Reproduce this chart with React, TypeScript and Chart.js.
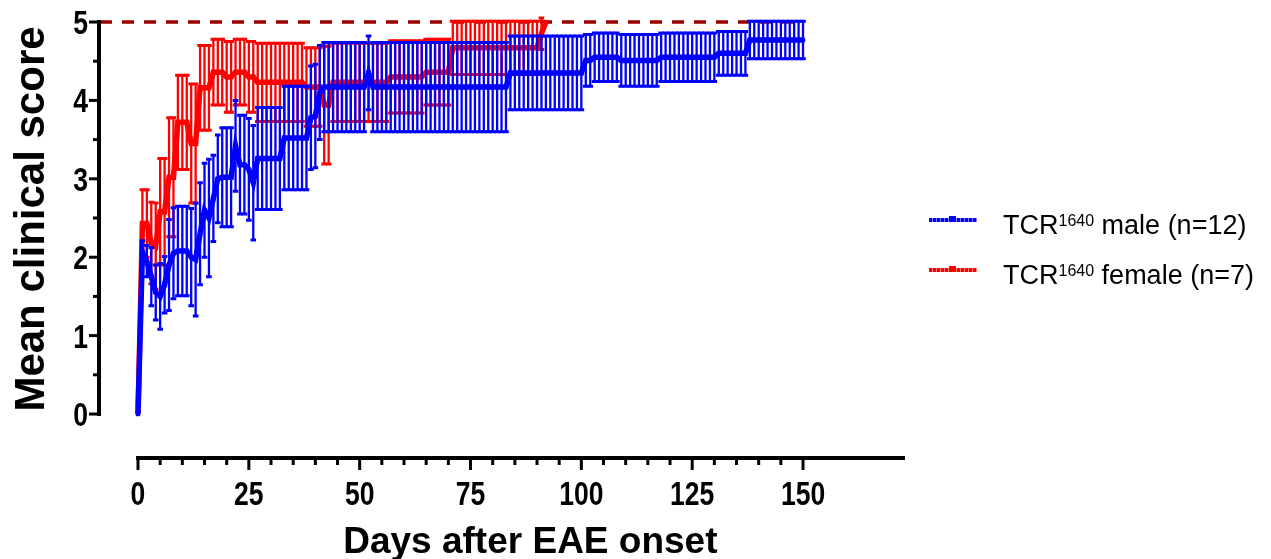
import { useEffect, useRef } from "react";
import { Chart, registerables } from "chart.js";

Chart.register(...registerables);

// ---------------- DATA ----------------
const maleMean = [
  0, 2.07, 1.95, 1.75, 1.55, 1.5, 1.65, 1.9, 2.05, 2.08,
  2.08, 2.08, 2.0, 1.97, 2.3, 2.6, 2.5, 2.75, 3.0, 3.02,
  3.02, 3.02, 3.42, 3.18, 3.18, 3.12, 2.95, 3.26, 3.26, 3.26,
  3.26, 3.26, 3.26, 3.52, 3.52, 3.52, 3.52, 3.52, 3.52, 3.78,
  3.8, 4.1, 4.17, 4.17, 4.17, 4.17, 4.17, 4.17, 4.17, 4.17,
  4.17, 4.17, 4.35, 4.17, 4.17, 4.17, 4.17, 4.17, 4.17, 4.17,
  4.17, 4.17, 4.17, 4.17, 4.17, 4.17, 4.17, 4.17, 4.17, 4.17,
  4.17, 4.17, 4.17, 4.17, 4.17, 4.17, 4.17, 4.17, 4.17, 4.17,
  4.17, 4.17, 4.17, 4.17, 4.35, 4.35, 4.35, 4.35, 4.35, 4.35,
  4.35, 4.35, 4.35, 4.35, 4.35, 4.35, 4.35, 4.35, 4.35, 4.35,
  4.35, 4.51, 4.51, 4.55, 4.55, 4.55, 4.55, 4.55, 4.55, 4.51,
  4.51, 4.51, 4.51, 4.51, 4.51, 4.51, 4.51, 4.51, 4.55, 4.55,
  4.55, 4.55, 4.55, 4.55, 4.55, 4.55, 4.55, 4.55, 4.55, 4.55,
  4.55, 4.6, 4.6, 4.6, 4.6, 4.6, 4.6, 4.6, 4.77, 4.77,
  4.77, 4.77, 4.77, 4.77, 4.77, 4.77, 4.77, 4.77, 4.77, 4.77,
  4.77,
];
const maleSem = [
  0, 0.14, 0.2, 0.37, 0.35, 0.42, 0.36, 0.58, 0.58, 0.57,
  0.57, 0.57, 0.62, 0.72, 0.65, 0.6, 0.75, 0.55, 0.56, 0.63,
  0.63, 0.63, 0.58, 0.63, 0.63, 0.65, 0.73, 0.65, 0.65, 0.65,
  0.65, 0.65, 0.65, 0.66, 0.66, 0.66, 0.66, 0.66, 0.66, 0.66,
  0.66, 0.6, 0.57, 0.57, 0.57, 0.57, 0.57, 0.57, 0.57, 0.57,
  0.57, 0.57, 0.47, 0.57, 0.57, 0.57, 0.57, 0.57, 0.57, 0.57,
  0.57, 0.57, 0.57, 0.57, 0.57, 0.57, 0.57, 0.57, 0.57, 0.57,
  0.57, 0.57, 0.57, 0.57, 0.57, 0.57, 0.57, 0.57, 0.57, 0.57,
  0.57, 0.57, 0.57, 0.57, 0.47, 0.47, 0.47, 0.47, 0.47, 0.47,
  0.47, 0.47, 0.47, 0.47, 0.47, 0.47, 0.47, 0.47, 0.47, 0.47,
  0.47, 0.33, 0.33, 0.31, 0.31, 0.31, 0.31, 0.31, 0.31, 0.33,
  0.33, 0.33, 0.33, 0.33, 0.33, 0.33, 0.33, 0.33, 0.31, 0.31,
  0.31, 0.31, 0.31, 0.31, 0.31, 0.31, 0.31, 0.31, 0.31, 0.31,
  0.31, 0.28, 0.28, 0.28, 0.28, 0.28, 0.28, 0.28, 0.24, 0.24,
  0.24, 0.24, 0.24, 0.24, 0.24, 0.24, 0.24, 0.24, 0.24, 0.24,
  0.24,
];
const femaleMean = [
  0, 2.43, 2.43, 2.18, 2.14, 2.58, 2.58, 3.02, 3.02, 3.72,
  3.72, 3.72, 3.45, 3.45, 4.16, 4.16, 4.16, 4.36, 4.36, 4.36,
  4.3, 4.3, 4.36, 4.36, 4.36, 4.3, 4.3, 4.23, 4.23, 4.23,
  4.23, 4.23, 4.23, 4.23, 4.23, 4.23, 4.23, 4.23, 4.17, 4.17,
  4.17, 4.17, 3.94, 3.94, 4.23, 4.23, 4.23, 4.23, 4.23, 4.23,
  4.23, 4.23, 4.23, 4.23, 4.23, 4.23, 4.23, 4.3, 4.3, 4.3,
  4.3, 4.3, 4.3, 4.3, 4.3, 4.36, 4.36, 4.36, 4.36, 4.36,
  4.36, 4.67, 4.67, 4.67, 4.67, 4.67, 4.67, 4.67, 4.67, 4.67,
  4.67, 4.67, 4.67, 4.67, 4.67, 4.67, 4.67, 4.67, 4.67, 4.67,
  4.67, 4.85, 5.0,
];
const femaleSem = [
  0, 0.43, 0.43, 0.52, 0.55, 0.68, 0.68, 0.76, 0.76, 0.6,
  0.6, 0.6, 0.76, 0.76, 0.54, 0.54, 0.54, 0.42, 0.42, 0.42,
  0.45, 0.45, 0.42, 0.42, 0.42, 0.45, 0.45, 0.5, 0.5, 0.5,
  0.5, 0.5, 0.5, 0.5, 0.5, 0.5, 0.5, 0.5, 0.5, 0.5,
  0.5, 0.5, 0.75, 0.75, 0.5, 0.5, 0.5, 0.5, 0.5, 0.5,
  0.5, 0.5, 0.5, 0.5, 0.5, 0.5, 0.5, 0.46, 0.46, 0.46,
  0.46, 0.46, 0.46, 0.46, 0.46, 0.42, 0.42, 0.42, 0.42, 0.42,
  0.42, 0.34, 0.34, 0.34, 0.34, 0.34, 0.34, 0.34, 0.34, 0.34,
  0.34, 0.34, 0.34, 0.34, 0.34, 0.34, 0.34, 0.34, 0.34, 0.34,
  0.34, 0.2, 0,
];
const xTickValues = [0, 25, 50, 75, 100, 125, 150];
const xMinorStep = 5;
const yTickValues = [0, 1, 2, 3, 4, 5];
const yMinorStep = 0.5;
const maxScore = 5;
const maxScoreLineEnd = 150;
const xRange = [-8.57, 173];
const yRange = [-0.561, 5];
const seriesLabels = ["male (n=12)", "female (n=7)"];
const xTitle = "Days after EAE onset";
const yTitle = "Mean clinical score";

const BLUE = "#0000FF";
const RED = "#FF0000";
const DARKRED = "#9A0000";

const toPoints = (arr: number[]) => arr.map((v, i) => ({ x: i, y: v }));

const errorBarPlugin = {
  id: "errorBars",
  beforeDatasetDraw(chart: any, args: any) {
    const ds = chart.data.datasets[args.index];
    if (!ds.sem) return;
    const xs = chart.scales.x;
    const ys = chart.scales.y;
    const ctx = chart.ctx;
    ctx.save();
    ctx.strokeStyle = ds.borderColor;
    ds.data.forEach((pt: any, i: number) => {
      const s = ds.sem[i];
      if (!s) return;
      const px = xs.getPixelForValue(pt.x);
      const top = ys.getPixelForValue(pt.y + s);
      const bot = ys.getPixelForValue(pt.y - s);
      ctx.lineWidth = 2.3;
      ctx.beginPath();
      ctx.moveTo(px, top);
      ctx.lineTo(px, bot);
      ctx.stroke();
      ctx.lineWidth = 3;
      ctx.beginPath();
      ctx.moveTo(px - 2.8, top);
      ctx.lineTo(px + 2.8, top);
      ctx.moveTo(px - 2.8, bot);
      ctx.lineTo(px + 2.8, bot);
      ctx.stroke();
    });
    ctx.restore();
  },
};

const TICK_FONT = "bold 34px 'Liberation Sans', Arial, sans-serif";
const NARROW = 0.78;

const axesPlugin = {
  id: "customAxes",
  afterDraw(chart: any) {
    const xs = chart.scales.x;
    const ys = chart.scales.y;
    const ctx = chart.ctx;
    const area = chart.chartArea;
    ctx.save();
    ctx.strokeStyle = "#000";
    ctx.fillStyle = "#000";
    // y axis
    const yAxisX = area.left - 1;
    const y0 = ys.getPixelForValue(yTickValues[0]);
    const y5 = ys.getPixelForValue(yTickValues[yTickValues.length - 1]);
    ctx.lineWidth = 4;
    ctx.beginPath();
    ctx.moveTo(yAxisX, y0 + 2);
    ctx.lineTo(yAxisX, y5 - 2);
    ctx.stroke();
    for (let v = yTickValues[0]; v <= yTickValues[yTickValues.length - 1] + 1e-9; v += yMinorStep) {
      const py = ys.getPixelForValue(v);
      const major = yTickValues.includes(Math.round(v * 100) / 100);
      ctx.lineWidth = 3;
      ctx.beginPath();
      ctx.moveTo(yAxisX, py);
      ctx.lineTo(yAxisX - (major ? 10 : 6), py);
      ctx.stroke();
    }
    // y tick labels
    ctx.font = TICK_FONT;
    ctx.textBaseline = "alphabetic";
    ctx.textAlign = "right";
    ys.ticks.forEach((t: any) => {
      const py = ys.getPixelForValue(t.value);
      ctx.save();
      ctx.translate(88, py + 12);
      ctx.scale(NARROW, 1);
      ctx.fillText(String(t.value), 0, 0);
      ctx.restore();
    });
    // x axis
    const xAxisY = area.bottom;
    const xStart = xs.getPixelForValue(xTickValues[0]);
    ctx.lineWidth = 4;
    ctx.beginPath();
    ctx.moveTo(xStart - 2, xAxisY);
    ctx.lineTo(area.right, xAxisY);
    ctx.stroke();
    for (let v = xTickValues[0]; v <= xTickValues[xTickValues.length - 1]; v += xMinorStep) {
      const px = xs.getPixelForValue(v);
      const major = xTickValues.includes(v);
      ctx.lineWidth = 3;
      ctx.beginPath();
      ctx.moveTo(px, xAxisY);
      ctx.lineTo(px, xAxisY + (major ? 12 : 7));
      ctx.stroke();
    }
    // x tick labels
    ctx.textAlign = "center";
    xs.ticks.forEach((t: any) => {
      const px = xs.getPixelForValue(t.value);
      ctx.save();
      ctx.translate(px, 505);
      ctx.scale(NARROW, 1);
      ctx.fillText(String(t.value), 0, 0);
      ctx.restore();
    });
    // titles
    ctx.font = "bold 37px 'Liberation Sans', Arial, sans-serif";
    ctx.textAlign = "center";
    ctx.fillText(xTitle, xs.getPixelForValue(88.5), 553);
    ctx.save();
    ctx.translate(44, (y0 + y5) / 2 + 1);
    ctx.rotate(-Math.PI / 2);
    ctx.font = "bold 42px 'Liberation Sans', Arial, sans-serif";
    ctx.fillText(yTitle, 0, 0);
    ctx.restore();
    ctx.restore();
  },
};

export default function App() {
  const ref = useRef<HTMLCanvasElement | null>(null);
  useEffect(() => {
    if (!ref.current) return;
    const chart = new Chart(ref.current, {
      type: "line",
      data: {
        datasets: [
          {
            label: "TCR1640 male (n=12)",
            data: toPoints(maleMean),
            sem: maleSem,
            borderColor: BLUE,
            backgroundColor: BLUE,
            borderWidth: 5.5,
            pointStyle: "rect",
            pointRadius: 3,
            pointBorderWidth: 0,
            clip: false,
            order: 1,
          } as any,
          {
            label: "TCR1640 female (n=7)",
            data: toPoints(femaleMean),
            sem: femaleSem,
            borderColor: RED,
            backgroundColor: RED,
            borderWidth: 5.5,
            pointStyle: "rect",
            pointRadius: 3,
            pointBorderWidth: 0,
            clip: false,
            order: 2,
          } as any,
          {
            label: "max",
            data: [
              { x: xRange[0], y: maxScore },
              { x: maxScoreLineEnd, y: maxScore },
            ],
            borderColor: DARKRED,
            borderWidth: 3.5,
            borderDash: [12, 10],
            pointRadius: 0,
            clip: false,
            order: 3,
          } as any,
        ],
      },
      options: {
        responsive: false,
        animation: false,
        layout: { padding: { top: 22, right: 366, left: 0, bottom: 0 } },
        plugins: { legend: { display: false }, tooltip: { enabled: false } },
        scales: {
          x: {
            type: "linear",
            min: xRange[0],
            max: xRange[1],
            grid: { display: false },
            border: { display: false },
            afterBuildTicks: (s: any) => {
              s.ticks = xTickValues.map((v) => ({ value: v }));
            },
            afterFit: (s: any) => {
              s.height = 101;
              s.paddingLeft = 0;
              s.paddingRight = 0;
            },
            ticks: { display: false },
          },
          y: {
            type: "linear",
            min: yRange[0],
            max: yRange[1],
            grid: { display: false },
            border: { display: false },
            afterBuildTicks: (s: any) => {
              s.ticks = yTickValues.map((v) => ({ value: v }));
            },
            afterFit: (s: any) => {
              s.width = 100;
              s.paddingTop = 0;
              s.paddingBottom = 0;
            },
            ticks: { display: false },
          },
        },
      },
      plugins: [errorBarPlugin, axesPlugin],
    });
    return () => chart.destroy();
  }, []);

  const legendRows = [
    { color: BLUE, light: "#7f7fff", label: seriesLabels[0], top: 207 },
    { color: RED, light: "#ff7f7f", label: seriesLabels[1], top: 257 },
  ];

  return (
    <div style={{ position: "absolute", left: 0, top: 0, width: 1271, height: 559, background: "#fff" }}>
      <canvas ref={ref} width={1271} height={559} style={{ display: "block", width: 1271, height: 559 }} />
      {legendRows.map((r) => (
        <div key={r.label}>
          <div
            style={{
              position: "absolute",
              left: 929,
              top: r.top + 11,
              width: 48,
              height: 4,
              background: `repeating-linear-gradient(90deg, ${r.color} 0px, ${r.color} 3px, ${r.light} 3px, ${r.light} 4px)`,
            }}
          />
          <div
            style={{
              position: "absolute",
              left: 949,
              top: r.top + 9,
              width: 7,
              height: 6,
              background: r.color,
            }}
          />
          <div
            style={{
              position: "absolute",
              left: 1003,
              top: r.top,
              fontFamily: "'Liberation Sans', Arial, sans-serif",
              fontSize: 27,
              lineHeight: "27px",
              whiteSpace: "nowrap",
              color: "#000",
            }}
          >
            TCR<span style={{ fontSize: 16, verticalAlign: "8px" }}>1640</span> {r.label}
          </div>
        </div>
      ))}
    </div>
  );
}
